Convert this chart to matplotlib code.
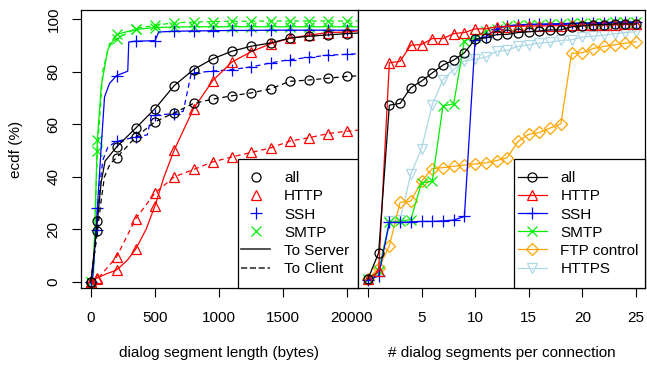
import numpy as np
import matplotlib
matplotlib.use('Agg')
import matplotlib.pyplot as plt
from matplotlib.lines import Line2D
from matplotlib.patches import Rectangle

plt.rcParams['font.family'] = ['Liberation Sans', 'DejaVu Sans']
plt.rcParams['font.size'] = 11

# ---- left panel: dialog segment length (bytes), markers every 150 bytes ----
len_marks = [0, 50, 200, 350, 500, 650, 800, 950, 1100, 1250, 1400, 1550, 1700, 1850, 2000]
tail = [950, 1100, 1250, 1400, 1550, 1700, 1850, 2000, 2080]

all_srv_x = [0, 50, 80, 110, 200, 350, 500, 650, 800] + tail
all_srv_y = [0, 23, 38, 46, 51.4, 58.6, 66, 74.8, 80.9, 85, 87.9, 89.8, 91, 92.9, 93.6, 94.1, 94.6, 94.8]
all_cli_x = [0, 50, 80, 105, 150, 200, 350, 500, 650, 800] + tail
all_cli_y = [0, 19.3, 31, 40, 45, 47.3, 55.2, 61, 64.4, 68, 69.6, 70.9, 72, 73.5, 76.4, 76.9, 77.6, 78.3, 78.5]

http_srv_x = [0, 50, 120, 200, 280, 350, 430, 500, 570, 650, 800] + tail
http_srv_y = [0, 1.5, 3, 4.5, 8, 12.5, 20, 29, 40, 50.3, 66, 76.7, 83.8, 87.7, 90.7, 92.8, 94, 95, 95.2, 95.6]
http_cli_x = [0, 50, 200, 350, 500, 650, 800] + tail
http_cli_y = [0, 1, 9.5, 24.1, 33.9, 40, 42.8, 45.7, 47.6, 49.3, 51, 53.6, 54.9, 56.5, 57.4, 57.8]

ssh_srv_x = [0, 15, 50, 80, 106, 145, 200, 274, 287, 295, 350, 500, 528, 650, 800] + tail
ssh_srv_y = [0, 2, 28, 51.4, 70.5, 75.6, 78.6, 80, 80.3, 91.4, 91.7, 91.9, 95.2, 95.5, 95.6,
             95.7, 95.8, 95.8, 95.9, 95.9, 95.9, 95.9, 95.9, 95.9]
ssh_cli_x = [0, 50, 67, 93, 132, 200, 350, 440, 470, 500, 650, 720, 780, 800] + tail
ssh_cli_y = [0, 19.7, 36, 46.4, 51.4, 53.5, 55.2, 56, 63, 63.5, 64.1, 65, 79, 79.6,
             80.3, 80.9, 81.9, 83.4, 84.7, 85.5, 86.4, 86.7, 86.9]

smtp_srv_x = [0, 20, 50, 80, 130, 200, 350, 500, 650, 800] + tail
smtp_srv_y = [0, 5, 54, 74.3, 88.3, 94.3, 96.2, 96.9, 97.1, 97.2, 97.2, 97.2, 97.2, 97.2, 97.2, 97.2, 97.2, 97.2, 97.2]
smtp_cli_x = [0, 20, 50, 67, 93, 145, 200, 350, 500, 650, 800] + tail
smtp_cli_y = [0, 3, 50, 61.6, 80.6, 90.8, 92.6, 96.5, 97.8, 98.7, 99, 99.2, 99.3, 99.3, 99.4, 99.4, 99.4, 99.4, 99.4, 99.4]

# ---- right panel: # dialog segments per connection ----
seg_n = np.arange(0, 26)
all_seg = [1, 11, 67.3, 68, 74, 76.5, 79.6, 82.6, 84.5, 87.3, 92.4, 93, 94.2, 94.3, 95, 95.3,
           95.6, 96, 96, 97.2, 97.5, 98, 98, 98.3, 98.3, 98.3]
http_seg = [1, 4, 83.5, 84, 90.2, 90.4, 92.7, 92.7, 94.6, 95, 96.4, 96.4, 97.2, 97.3, 97.4, 97.5,
            97.5, 97.6, 97.6, 97.7, 97.8, 97.9, 98, 98, 98.1, 98.1]
ssh_seg = [0.5, 2.3, 22.6, 22.6, 22.8, 23, 23, 23.2, 23.5, 24.9, 92.3, 93.4, 96.4, 97.6, 97.9, 98.1,
           98.2, 98.3, 98.4, 98.5, 98.6, 98.7, 98.8, 98.9, 99, 99]
smtp_seg = [1, 4, 22.6, 23, 23.7, 37.7, 38.3, 67, 67.8, 91.8, 93.2, 95.5, 96.5, 97.6, 97.8, 98,
            98, 98.2, 98.2, 98.5, 98.5, 98.7, 98.8, 98.9, 99, 99.2]
ftp_seg = [1, 5.2, 13.7, 30.3, 30.7, 38.3, 43.1, 43.5, 44, 44.5, 44.9, 45.3, 46.2, 47.3, 53.5, 56.2,
           56.9, 58.6, 60.2, 87.1, 87.3, 88.9, 89.7, 90.3, 90.9, 91.5]
https_seg = [0.5, 4.6, 23, 23.7, 41, 50.7, 67.5, 77, 80.8, 84.2, 84.8, 85.6, 87.8, 88.2, 89.8, 90.3,
             91, 91.3, 92, 92.2, 93.3, 93.6, 94, 94.5, 95, 95.3]

cols = {'all': 'black', 'HTTP': 'red', 'SSH': 'blue', 'SMTP': '#00ee00',
        'FTP control': 'orange', 'HTTPS': 'lightblue'}
mk = {'all': 'o', 'HTTP': '^', 'SSH': '+', 'SMTP': 'x', 'FTP control': 'D', 'HTTPS': 'v'}
ms = {'all': 6.5, 'HTTP': 7.5, 'SSH': 9, 'SMTP': 7, 'FTP control': 6, 'HTTPS': 7.5}

fig = plt.figure(figsize=(6.47, 3.67), dpi=100)
ax1 = fig.add_axes([0.1247, 0.2144, 0.4282, 0.7584])
ax2 = fig.add_axes([0.5529, 0.2144, 0.4441, 0.7584], sharey=ax1)


def draw(ax, x, y, name, ls):
    x = np.array(x)
    y = np.array(y)
    ax.plot(x, y, color=cols[name], ls=ls, lw=0.9, dashes=(4, 3) if ls == '--' else (None, None))
    sel = np.isin(x, len_marks)
    ax.plot(x[sel], y[sel], ls='none', marker=mk[name], ms=ms[name], mfc='none',
            mec=cols[name], mew=0.9)


series = [
    ('SMTP', smtp_srv_x, smtp_srv_y, smtp_cli_x, smtp_cli_y),
    ('SSH', ssh_srv_x, ssh_srv_y, ssh_cli_x, ssh_cli_y),
    ('HTTP', http_srv_x, http_srv_y, http_cli_x, http_cli_y),
    ('all', all_srv_x, all_srv_y, all_cli_x, all_cli_y),
]
for name, sx, sy, cx, cy in series:
    draw(ax1, cx, cy, name, '--')
    draw(ax1, sx, sy, name, '-')

ax1.set_xlim(-80, 2080)
ax1.set_ylim(-2.5, 103.6)
ax1.set_xticks([0, 500, 1000, 1500, 2000])
ax1.set_yticks([0, 20, 40, 60, 80, 100])
for lab in ax1.get_yticklabels():
    lab.set_rotation(90)
    lab.set_va('center')
ax1.set_xlabel('dialog segment length (bytes)', labelpad=15)
ax1.set_ylabel('ecdf (%)', labelpad=17)

right = [('HTTPS', https_seg), ('FTP control', ftp_seg), ('SMTP', smtp_seg),
         ('SSH', ssh_seg), ('HTTP', http_seg), ('all', all_seg)]
handles = {}
for name, vals in right:
    handles[name], = ax2.plot(seg_n, vals, color=cols[name], lw=0.9, marker=mk[name], ms=ms[name],
                              mfc='none', mec=cols[name], mew=0.9)
ax2.set_xlim(-0.95, 25.85)
ax2.set_xticks([0, 5, 10, 15, 20, 25])
ax2.tick_params(axis='y', left=False, labelleft=False)
ax2.set_xlabel('# dialog segments per connection', labelpad=15)

# legends: R-style boxes in the lower right corner
box_h = 0.4646
h1 = [Line2D([], [], ls='none', marker=mk[n], ms=ms[n], mfc='none', mec=cols[n], mew=0.9)
      for n in ['all', 'HTTP', 'SSH', 'SMTP']]
h1 += [Line2D([], [], color='#333333', lw=1.2), Line2D([], [], color='#333333', lw=1.2, ls='--')]
order = ['all', 'HTTP', 'SSH', 'SMTP', 'FTP control', 'HTTPS']
legs = [(ax1, 0.569, h1, ['all', 'HTTP', 'SSH', 'SMTP', 'To Server', 'To Client']),
        (ax2, 0.5456, [handles[n] for n in order], order)]
for ax, x0, hs, labs in legs:
    ax.add_patch(Rectangle((x0, 0), 1 - x0, box_h, transform=ax.transAxes, fc='white',
                           ec='black', lw=0.9, zorder=4, clip_on=False))
    lg = ax.legend(hs, labs, loc='center left', bbox_to_anchor=(x0, box_h / 2),
                   frameon=False, borderaxespad=0, borderpad=0.2, handlelength=1.9,
                   handletextpad=0.9, labelspacing=0.27)
    lg.set_zorder(5)

for ax in (ax1, ax2):
    ax.tick_params(direction='out', length=6.5, width=0.8, labelsize=11)
    for s in ax.spines.values():
        s.set_linewidth(0.9)
ax1.tick_params(axis='x', pad=10)
ax2.tick_params(axis='x', pad=10)
ax1.tick_params(axis='y', pad=8)

fig.savefig('out.png', dpi=100)
